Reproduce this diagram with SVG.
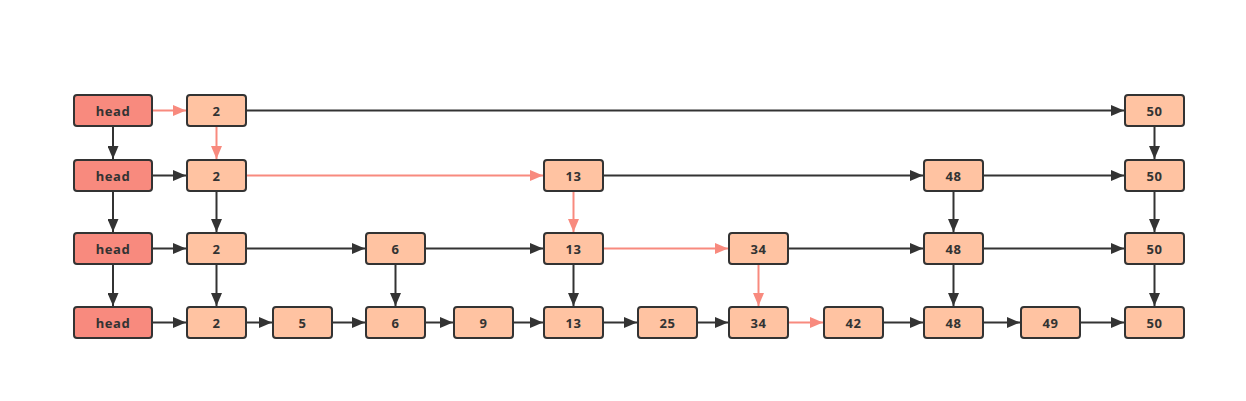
<svg xmlns="http://www.w3.org/2000/svg" width="1246" height="401" viewBox="0 0 1246 401">
<defs>
<marker id="ad" markerUnits="userSpaceOnUse" markerWidth="14" markerHeight="11" refX="13" refY="5.5" orient="auto"><path d="M0,0 L13,5.5 L0,11 z" fill="#333333"/></marker>
<marker id="ap" markerUnits="userSpaceOnUse" markerWidth="14" markerHeight="11" refX="13" refY="5.5" orient="auto"><path d="M0,0 L13,5.5 L0,11 z" fill="#F88A7E"/></marker>
<style>
.h rect{fill:#F88A7E;stroke:#333333;stroke-width:2}
.n rect{fill:#FFC3A2;stroke:#333333;stroke-width:2}
text{font-family:"Noto Sans","DejaVu Sans",sans-serif;font-weight:bold;font-size:13px;letter-spacing:0.6px;fill:#333333;text-anchor:middle;dominant-baseline:central}
.d{stroke:#333333;stroke-width:2;fill:none;marker-end:url(#ad)}
.p{stroke:#F88A7E;stroke-width:2;fill:none;marker-end:url(#ap)}
</style>
</defs>
<rect width="1246" height="401" fill="#ffffff"/>
<g id="connectors">
<!-- row 0 -->
<line class="p" x1="152" y1="110.5" x2="186" y2="110.5"/>
<line class="d" x1="246" y1="110.5" x2="1124" y2="110.5"/>
<!-- row 1 -->
<line class="d" x1="152" y1="175.5" x2="186" y2="175.5"/>
<line class="p" x1="246" y1="175.5" x2="543" y2="175.5"/>
<line class="d" x1="603" y1="175.5" x2="923" y2="175.5"/>
<line class="d" x1="983" y1="175.5" x2="1124" y2="175.5"/>
<!-- row 2 -->
<line class="d" x1="152" y1="248.5" x2="186" y2="248.5"/>
<line class="d" x1="246" y1="248.5" x2="365" y2="248.5"/>
<line class="d" x1="425" y1="248.5" x2="543" y2="248.5"/>
<line class="p" x1="603" y1="248.5" x2="728" y2="248.5"/>
<line class="d" x1="788" y1="248.5" x2="923" y2="248.5"/>
<line class="d" x1="983" y1="248.5" x2="1124" y2="248.5"/>
<!-- row 3 -->
<line class="d" x1="152" y1="322.5" x2="186" y2="322.5"/>
<line class="d" x1="246" y1="322.5" x2="272" y2="322.5"/>
<line class="d" x1="332" y1="322.5" x2="365" y2="322.5"/>
<line class="d" x1="425" y1="322.5" x2="453" y2="322.5"/>
<line class="d" x1="513" y1="322.5" x2="543" y2="322.5"/>
<line class="d" x1="603" y1="322.5" x2="637" y2="322.5"/>
<line class="d" x1="697" y1="322.5" x2="728" y2="322.5"/>
<line class="p" x1="788" y1="322.5" x2="823" y2="322.5"/>
<line class="d" x1="883" y1="322.5" x2="923" y2="322.5"/>
<line class="d" x1="983" y1="322.5" x2="1020" y2="322.5"/>
<line class="d" x1="1080" y1="322.5" x2="1124" y2="322.5"/>
<!-- verticals -->
<line class="d" x1="113" y1="126" x2="113" y2="159"/>
<line class="d" x1="113" y1="191" x2="113" y2="232"/>
<line class="d" x1="113" y1="264" x2="113" y2="306"/>
<line class="p" x1="216.5" y1="126" x2="216.5" y2="159"/>
<line class="d" x1="216.5" y1="191" x2="216.5" y2="232"/>
<line class="d" x1="216.5" y1="264" x2="216.5" y2="306"/>
<line class="d" x1="395.5" y1="264" x2="395.5" y2="306"/>
<line class="p" x1="573.5" y1="191" x2="573.5" y2="232"/>
<line class="d" x1="573.5" y1="264" x2="573.5" y2="306"/>
<line class="p" x1="758.5" y1="264" x2="758.5" y2="306"/>
<line class="d" x1="953.5" y1="191" x2="953.5" y2="232"/>
<line class="d" x1="953.5" y1="264" x2="953.5" y2="306"/>
<line class="d" x1="1154.5" y1="126" x2="1154.5" y2="159"/>
<line class="d" x1="1154.5" y1="191" x2="1154.5" y2="232"/>
<line class="d" x1="1154.5" y1="264" x2="1154.5" y2="306"/>
</g>
<!-- row 0 -->
<g id="head0" class="h"><rect x="74" y="95" width="78" height="31" rx="3"/><text x="113" y="110.5">head</text></g>
<g id="n0_2" class="n"><rect x="187" y="95" width="59" height="31" rx="3"/><text x="216.5" y="110.5">2</text></g>
<g id="n0_50" class="n"><rect x="1125" y="95" width="59" height="31" rx="3"/><text x="1154.5" y="110.5">50</text></g>
<!-- row 1 -->
<g id="head1" class="h"><rect x="74" y="160" width="78" height="31" rx="3"/><text x="113" y="175.5">head</text></g>
<g id="n1_2" class="n"><rect x="187" y="160" width="59" height="31" rx="3"/><text x="216.5" y="175.5">2</text></g>
<g id="n1_13" class="n"><rect x="544" y="160" width="59" height="31" rx="3"/><text x="573.5" y="175.5">13</text></g>
<g id="n1_48" class="n"><rect x="924" y="160" width="59" height="31" rx="3"/><text x="953.5" y="175.5">48</text></g>
<g id="n1_50" class="n"><rect x="1125" y="160" width="59" height="31" rx="3"/><text x="1154.5" y="175.5">50</text></g>
<!-- row 2 -->
<g id="head2" class="h"><rect x="74" y="233" width="78" height="31" rx="3"/><text x="113" y="248.5">head</text></g>
<g id="n2_2" class="n"><rect x="187" y="233" width="59" height="31" rx="3"/><text x="216.5" y="248.5">2</text></g>
<g id="n2_6" class="n"><rect x="366" y="233" width="59" height="31" rx="3"/><text x="395.5" y="248.5">6</text></g>
<g id="n2_13" class="n"><rect x="544" y="233" width="59" height="31" rx="3"/><text x="573.5" y="248.5">13</text></g>
<g id="n2_34" class="n"><rect x="729" y="233" width="59" height="31" rx="3"/><text x="758.5" y="248.5">34</text></g>
<g id="n2_48" class="n"><rect x="924" y="233" width="59" height="31" rx="3"/><text x="953.5" y="248.5">48</text></g>
<g id="n2_50" class="n"><rect x="1125" y="233" width="59" height="31" rx="3"/><text x="1154.5" y="248.5">50</text></g>
<!-- row 3 -->
<g id="head3" class="h"><rect x="74" y="307" width="78" height="31" rx="3"/><text x="113" y="322.5">head</text></g>
<g id="n3_2" class="n"><rect x="187" y="307" width="59" height="31" rx="3"/><text x="216.5" y="322.5">2</text></g>
<g id="n3_5" class="n"><rect x="273" y="307" width="59" height="31" rx="3"/><text x="302.5" y="322.5">5</text></g>
<g id="n3_6" class="n"><rect x="366" y="307" width="59" height="31" rx="3"/><text x="395.5" y="322.5">6</text></g>
<g id="n3_9" class="n"><rect x="454" y="307" width="59" height="31" rx="3"/><text x="483.5" y="322.5">9</text></g>
<g id="n3_13" class="n"><rect x="544" y="307" width="59" height="31" rx="3"/><text x="573.5" y="322.5">13</text></g>
<g id="n3_25" class="n"><rect x="638" y="307" width="59" height="31" rx="3"/><text x="667.5" y="322.5">25</text></g>
<g id="n3_34" class="n"><rect x="729" y="307" width="59" height="31" rx="3"/><text x="758.5" y="322.5">34</text></g>
<g id="n3_42" class="n"><rect x="824" y="307" width="59" height="31" rx="3"/><text x="853.5" y="322.5">42</text></g>
<g id="n3_48" class="n"><rect x="924" y="307" width="59" height="31" rx="3"/><text x="953.5" y="322.5">48</text></g>
<g id="n3_49" class="n"><rect x="1021" y="307" width="59" height="31" rx="3"/><text x="1050.5" y="322.5">49</text></g>
<g id="n3_50" class="n"><rect x="1125" y="307" width="59" height="31" rx="3"/><text x="1154.5" y="322.5">50</text></g>
</svg>
